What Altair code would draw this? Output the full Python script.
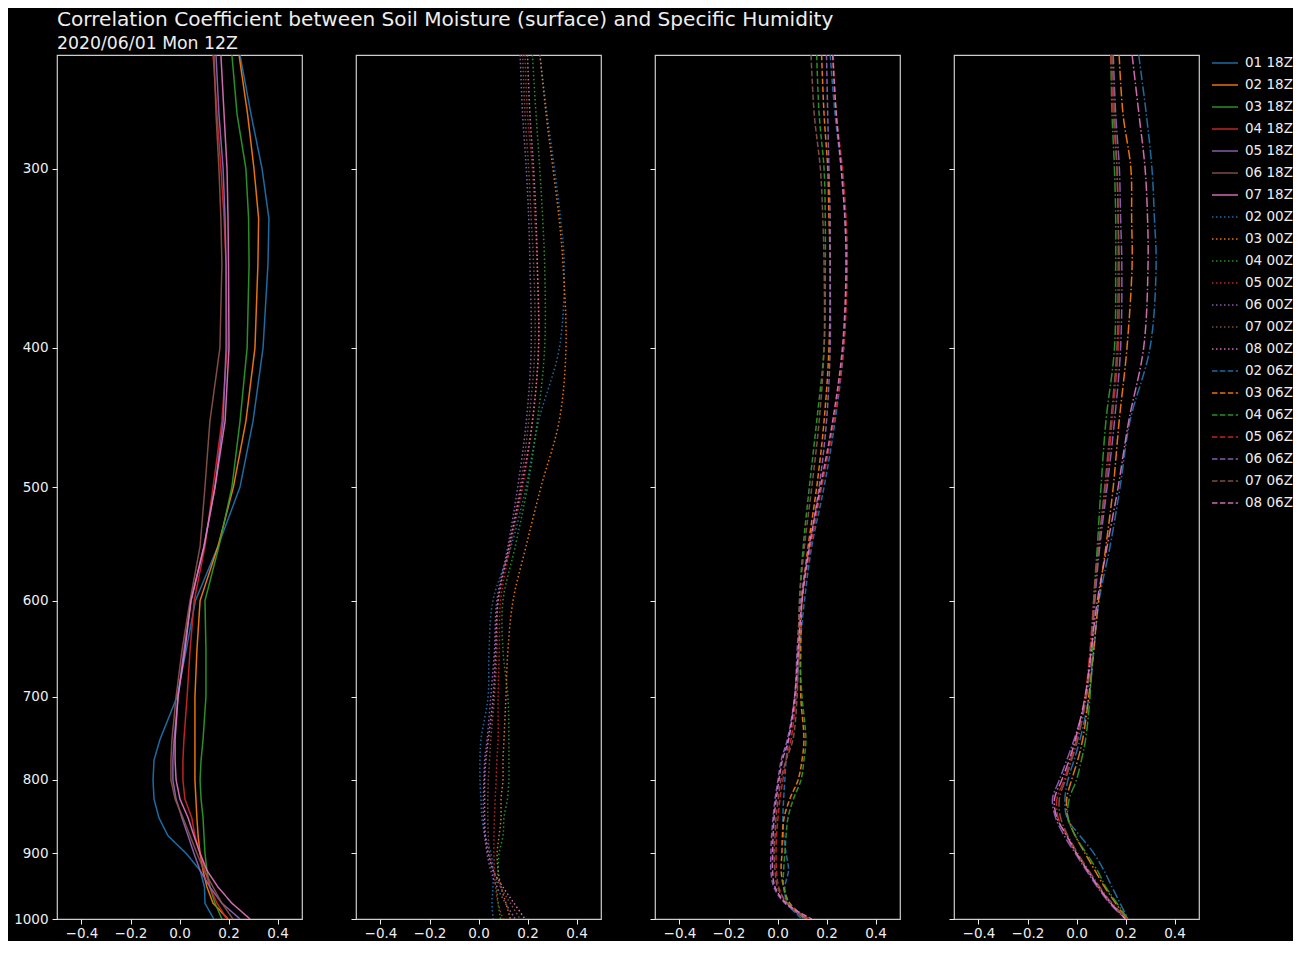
import altair as alt
import pandas as pd

# pressure levels (hPa), top to bottom
LEVELS = [250, 275, 300, 325, 350, 400, 450, 500, 550, 600, 650, 700,
          750, 775, 800, 825, 850, 875, 900, 925, 950, 975, 1000]

COLORS = ["#1f77b4", "#ff7f0e", "#2ca02c", "#d62728", "#9467bd", "#8c564b", "#e377c2"]

# ---- panel 1 : 18Z (solid)
r01_18Z = [0.247, 0.292, 0.337, 0.365, 0.361, 0.341, 0.300, 0.247, 0.157, 0.065, 0.027, -0.010, -0.080, -0.104, -0.108, -0.104, -0.084, -0.047, 0.027, 0.084, 0.102, 0.104, 0.140]
r02_18Z = [0.243, 0.278, 0.304, 0.323, 0.320, 0.308, 0.271, 0.220, 0.157, 0.084, 0.071, 0.063, 0.063, 0.063, 0.063, 0.067, 0.071, 0.076, 0.084, 0.096, 0.112, 0.137, 0.198]
r03_18Z = [0.214, 0.235, 0.271, 0.282, 0.284, 0.276, 0.247, 0.214, 0.161, 0.104, 0.108, 0.108, 0.096, 0.088, 0.084, 0.088, 0.096, 0.100, 0.104, 0.112, 0.124, 0.145, 0.173]
r04_18Z = [0.137, 0.153, 0.169, 0.182, 0.190, 0.194, 0.173, 0.137, 0.104, 0.060, 0.043, 0.031, 0.018, 0.014, 0.014, 0.022, 0.050, 0.063, 0.084, 0.104, 0.124, 0.153, 0.194]
r05_18Z = [0.149, 0.161, 0.178, 0.186, 0.190, 0.190, 0.178, 0.145, 0.100, 0.047, 0.018, -0.006, -0.022, -0.027, -0.027, -0.014, 0.010, 0.035, 0.059, 0.084, 0.124, 0.173, 0.247]
r06_18Z = [0.141, 0.149, 0.161, 0.169, 0.173, 0.165, 0.124, 0.104, 0.084, 0.043, 0.010, -0.014, -0.031, -0.035, -0.035, -0.018, 0.014, 0.043, 0.071, 0.100, 0.137, 0.173, 0.218]
r07_18Z = [0.169, 0.182, 0.194, 0.198, 0.200, 0.202, 0.186, 0.145, 0.100, 0.047, 0.022, -0.006, -0.018, -0.018, -0.014, 0.002, 0.035, 0.059, 0.084, 0.112, 0.157, 0.214, 0.288]

# ---- panel 2 : 00Z (dotted)
r02_00Z = [0.250, 0.280, 0.310, 0.335, 0.350, 0.330, 0.245, 0.194, 0.133, 0.059, 0.043, 0.039, 0.010, 0.006, 0.006, 0.010, 0.014, 0.027, 0.051, 0.059, 0.059, 0.055, 0.060]
r03_00Z = [0.251, 0.276, 0.304, 0.329, 0.345, 0.357, 0.329, 0.255, 0.194, 0.141, 0.120, 0.112, 0.104, 0.100, 0.100, 0.092, 0.092, 0.084, 0.076, 0.080, 0.092, 0.112, 0.130]
r04_00Z = [0.220, 0.235, 0.250, 0.262, 0.270, 0.270, 0.240, 0.200, 0.150, 0.100, 0.100, 0.120, 0.124, 0.124, 0.124, 0.118, 0.104, 0.100, 0.084, 0.080, 0.075, 0.080, 0.090]
r05_00Z = [0.190, 0.200, 0.220, 0.230, 0.240, 0.245, 0.220, 0.180, 0.130, 0.090, 0.085, 0.080, 0.080, 0.075, 0.072, 0.068, 0.065, 0.063, 0.063, 0.065, 0.070, 0.080, 0.100]
r06_00Z = [0.170, 0.180, 0.195, 0.205, 0.210, 0.215, 0.195, 0.160, 0.120, 0.075, 0.065, 0.050, 0.035, 0.025, 0.022, 0.020, 0.020, 0.025, 0.035, 0.050, 0.075, 0.110, 0.150]
r07_00Z = [0.180, 0.190, 0.205, 0.215, 0.225, 0.230, 0.205, 0.170, 0.125, 0.080, 0.075, 0.065, 0.050, 0.045, 0.040, 0.038, 0.038, 0.040, 0.045, 0.060, 0.090, 0.130, 0.170]
r08_00Z = [0.200, 0.210, 0.225, 0.235, 0.240, 0.245, 0.220, 0.175, 0.125, 0.080, 0.070, 0.060, 0.040, 0.030, 0.025, 0.025, 0.025, 0.028, 0.040, 0.060, 0.100, 0.145, 0.190]

# ---- panel 3 : 06Z (dashed)
r02_06Z = [0.215, 0.235, 0.260, 0.275, 0.280, 0.270, 0.235, 0.190, 0.140, 0.110, 0.090, 0.075, 0.045, 0.035, 0.030, 0.025, 0.022, 0.025, 0.035, 0.045, 0.030, 0.040, 0.100]
r03_06Z = [0.180, 0.190, 0.205, 0.210, 0.215, 0.210, 0.190, 0.160, 0.125, 0.100, 0.095, 0.095, 0.108, 0.100, 0.084, 0.050, 0.027, 0.020, 0.018, 0.015, 0.025, 0.050, 0.120]
r04_06Z = [0.160, 0.170, 0.190, 0.195, 0.195, 0.190, 0.160, 0.130, 0.105, 0.090, 0.090, 0.100, 0.116, 0.108, 0.096, 0.065, 0.043, 0.035, 0.030, 0.025, 0.025, 0.045, 0.110]
r05_06Z = [0.227, 0.240, 0.265, 0.280, 0.285, 0.270, 0.230, 0.180, 0.135, 0.100, 0.085, 0.075, 0.055, 0.035, 0.022, 0.010, 0.002, -0.004, -0.006, -0.004, 0.005, 0.040, 0.130]
r06_06Z = [0.200, 0.205, 0.210, 0.215, 0.215, 0.215, 0.200, 0.170, 0.130, 0.095, 0.080, 0.070, 0.040, 0.015, 0.002, -0.010, -0.018, -0.024, -0.027, -0.027, -0.015, 0.030, 0.120]
r07_06Z = [0.137, 0.150, 0.175, 0.185, 0.190, 0.190, 0.170, 0.140, 0.110, 0.090, 0.085, 0.080, 0.063, 0.035, 0.014, 0.003, -0.006, -0.010, -0.014, -0.010, 0.000, 0.040, 0.115]
r08_06Z = [0.225, 0.240, 0.260, 0.275, 0.280, 0.265, 0.225, 0.175, 0.130, 0.100, 0.085, 0.070, 0.045, 0.020, 0.006, -0.005, -0.014, -0.018, -0.020, -0.020, -0.010, 0.035, 0.140]

# ---- panel 4 : 12Z (dash-dot)
r02_12Z = [0.254, 0.285, 0.308, 0.318, 0.325, 0.300, 0.218, 0.178, 0.137, 0.092, 0.071, 0.051, 0.014, -0.010, -0.035, -0.047, -0.039, 0.014, 0.071, 0.112, 0.145, 0.178, 0.210]
r03_12Z = [0.174, 0.190, 0.222, 0.225, 0.227, 0.206, 0.174, 0.150, 0.120, 0.090, 0.070, 0.050, 0.025, 0.005, -0.020, -0.040, -0.035, -0.005, 0.035, 0.075, 0.115, 0.160, 0.205]
r04_12Z = [0.140, 0.145, 0.155, 0.160, 0.160, 0.155, 0.120, 0.100, 0.085, 0.070, 0.065, 0.055, 0.037, 0.020, 0.000, -0.030, -0.035, -0.005, 0.040, 0.085, 0.120, 0.165, 0.210]
r05_12Z = [0.140, 0.150, 0.165, 0.170, 0.175, 0.170, 0.145, 0.120, 0.090, 0.070, 0.055, 0.035, 0.000, -0.025, -0.050, -0.080, -0.075, -0.040, 0.000, 0.045, 0.090, 0.140, 0.205]
r06_12Z = [0.150, 0.160, 0.175, 0.180, 0.185, 0.180, 0.155, 0.125, 0.095, 0.075, 0.060, 0.040, -0.010, -0.040, -0.070, -0.098, -0.085, -0.050, -0.005, 0.040, 0.085, 0.135, 0.200]
r07_12Z = [0.145, 0.155, 0.165, 0.170, 0.170, 0.165, 0.140, 0.115, 0.090, 0.072, 0.058, 0.040, 0.005, -0.020, -0.045, -0.070, -0.065, -0.035, 0.005, 0.050, 0.095, 0.145, 0.210]
r08_12Z = [0.227, 0.255, 0.280, 0.290, 0.292, 0.274, 0.213, 0.170, 0.125, 0.085, 0.060, 0.035, -0.005, -0.030, -0.060, -0.090, -0.080, -0.040, 0.000, 0.045, 0.090, 0.140, 0.200]

PANEL1 = [("01 18Z", r01_18Z), ("02 18Z", r02_18Z), ("03 18Z", r03_18Z), ("04 18Z", r04_18Z),
          ("05 18Z", r05_18Z), ("06 18Z", r06_18Z), ("07 18Z", r07_18Z)]
PANEL2 = [("02 00Z", r02_00Z), ("03 00Z", r03_00Z), ("04 00Z", r04_00Z), ("05 00Z", r05_00Z),
          ("06 00Z", r06_00Z), ("07 00Z", r07_00Z), ("08 00Z", r08_00Z)]
PANEL3 = [("02 06Z", r02_06Z), ("03 06Z", r03_06Z), ("04 06Z", r04_06Z), ("05 06Z", r05_06Z),
          ("06 06Z", r06_06Z), ("07 06Z", r07_06Z), ("08 06Z", r08_06Z)]
PANEL4 = [("02 12Z", r02_12Z), ("03 12Z", r03_12Z), ("04 12Z", r04_12Z), ("05 12Z", r05_12Z),
          ("06 12Z", r06_12Z), ("07 12Z", r07_12Z), ("08 12Z", r08_12Z)]

X_TICKS = [-0.4, -0.2, 0.0, 0.2, 0.4]
Y_TICKS = [300, 400, 500, 600, 700, 800, 900, 1000]

LEGEND_ORDER = [n for n, _ in PANEL1 + PANEL2 + PANEL3]
COLOR_RANGE = COLORS * 3
DASH_RANGE = [[1, 0]] * 7 + [[1.5, 2.5]] * 7 + [[5.5, 2.4]] * 7
DASHDOT = [9.6, 2.4, 1.5, 2.4]

FONT = "DejaVu Sans"
W, H = 245, 864


def frame(panel):
    rows = []
    for i, (name, vals) in enumerate(panel):
        for k, (p, r) in enumerate(zip(LEVELS, vals)):
            rows.append({"series": name, "p": p, "r": r, "k": k, "hex": COLORS[i]})
    return pd.DataFrame(rows)


def axes(show_y):
    x = alt.X("r:Q", scale=alt.Scale(domain=[-0.5, 0.5], nice=False, zero=False),
              axis=alt.Axis(values=X_TICKS, title=None, labelPadding=2,
                            labelExpr="replace(format(datum.value, '.1f'), '-', '\u2212')"))
    y = alt.Y("p:Q", scale=alt.Scale(type="log", domain=[250, 1000], reverse=True, nice=False),
              axis=alt.Axis(values=Y_TICKS, title=None, format="d", labels=show_y, labelPadding=4))
    return x, y


legend = alt.Legend(title=None, orient="right", offset=11, symbolType="stroke",
                    symbolSize=676, symbolStrokeWidth=1.5, labelFontSize=13.5,
                    labelColor="#eeeeee", labelFont=FONT, clipHeight=16, rowPadding=6,
                    labelOffset=6, padding=0)


def legend_panel(panel, show_y, interp):
    x, y = axes(show_y)
    return alt.Chart(frame(panel)).mark_line(strokeWidth=1.5, opacity=0.9, interpolate=interp, clip=True).encode(
        x=x, y=y, order=alt.Order("k:Q"),
        color=alt.Color("series:N", scale=alt.Scale(domain=LEGEND_ORDER, range=COLOR_RANGE), legend=legend),
        strokeDash=alt.StrokeDash("series:N", scale=alt.Scale(domain=LEGEND_ORDER, range=DASH_RANGE), legend=legend),
    ).properties(width=W, height=H)


x4, y4 = axes(False)
p4 = alt.Chart(frame(PANEL4)).mark_line(strokeWidth=1.5, opacity=0.9, interpolate="catmull-rom",
                                        strokeDash=DASHDOT, clip=True).encode(
    x=x4, y=y4, order=alt.Order("k:Q"), detail="series:N",
    stroke=alt.Stroke("hex:N", scale=None),
).properties(width=W, height=H)

chart = alt.hconcat(
    legend_panel(PANEL1, True, "linear"),
    legend_panel(PANEL2, False, "catmull-rom"),
    legend_panel(PANEL3, False, "catmull-rom"),
    p4,
    spacing=46,
).properties(
    title=alt.TitleParams(
        text="Correlation Coefficient between Soil Moisture (surface) and Specific Humidity",
        subtitle="2020/06/01 Mon 12Z",
        anchor="start", font=FONT, subtitleFont=FONT, fontSize=20.1, subtitleFontSize=17.3,
        fontWeight="normal", color="#eeeeee", subtitleColor="#eeeeee", offset=2.3, subtitlePadding=4.5,
        dx=44,
    ),
    background="black",
    padding={"left": 5, "top": 2, "right": 0, "bottom": 0},
).configure_view(
    stroke="#cccccc", strokeWidth=1.2
).configure_axis(
    domain=False, grid=False, tickColor="#eeeeee", tickSize=5, tickWidth=1,
    labelColor="#eeeeee", labelFont=FONT, labelFontSize=13.5,
)

chart.save("out.html", embed_options={"renderer": "svg", "actions": False})
